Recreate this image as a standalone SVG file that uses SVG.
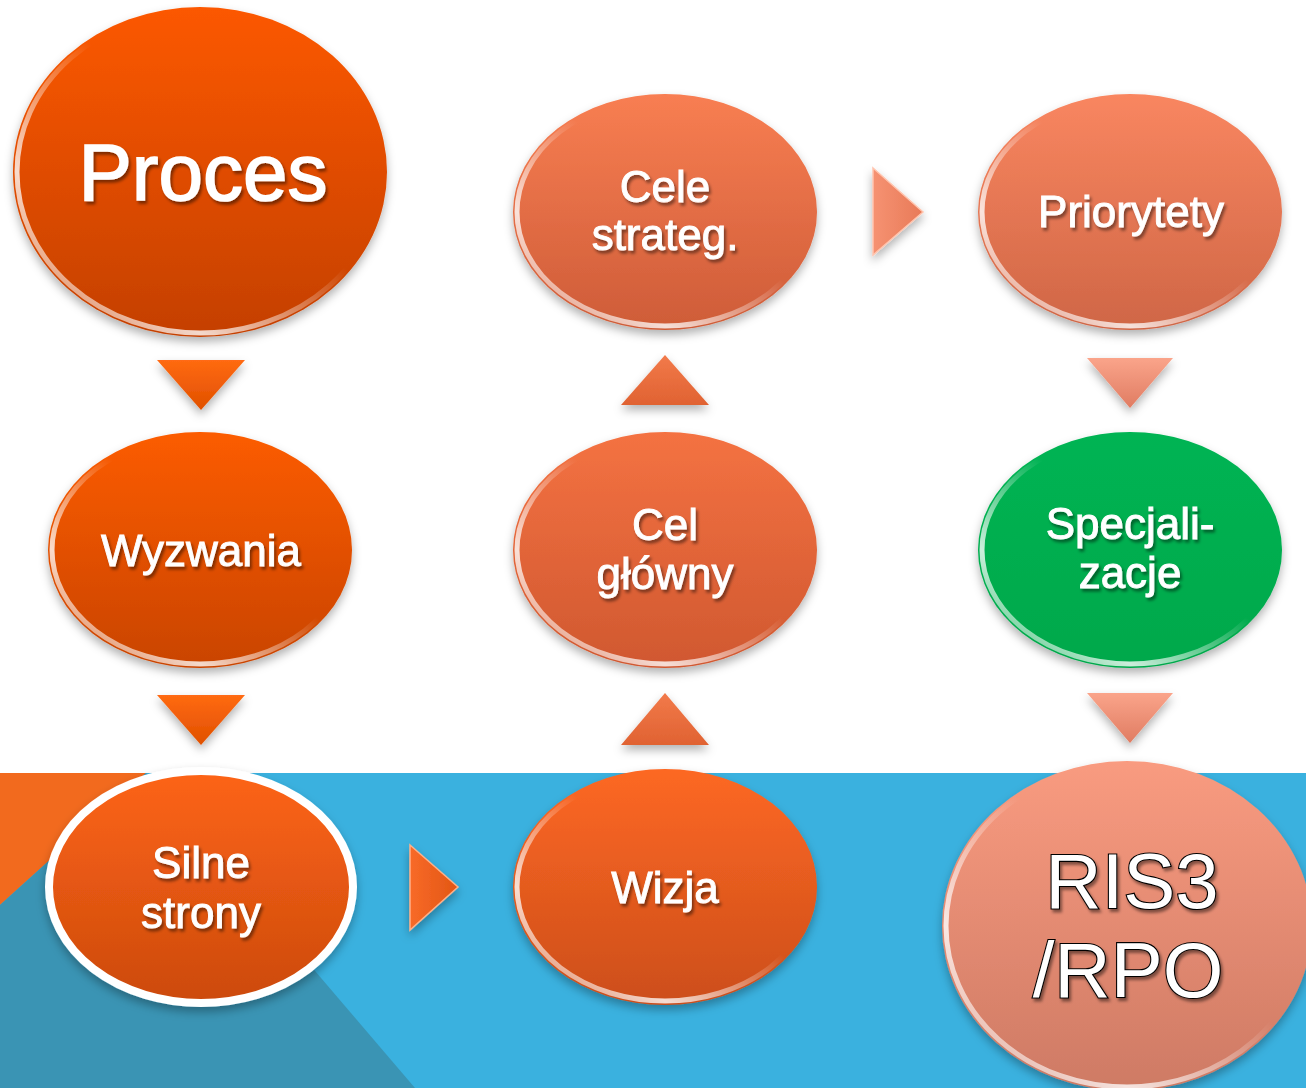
<svg xmlns="http://www.w3.org/2000/svg" width="1306" height="1088" viewBox="0 0 1306 1088">
<style>
.t{font-family:"Liberation Sans",Arial,sans-serif;fill:#fff;stroke:#fff;stroke-width:0.9;text-anchor:middle;filter:url(#ts)}
.m{font-size:44px}
.big{font-size:80px;stroke-width:1.6}
.ris{font-family:"Liberation Sans",Arial,sans-serif;fill:#fff;stroke:#000;stroke-width:2.2;paint-order:stroke;text-anchor:middle;font-size:78px;filter:url(#ts)}
.rim{fill:none;stroke:url(#rimg);stroke-width:5}
</style>
<defs>
<filter id="sh" x="-20%" y="-20%" width="140%" height="150%"><feDropShadow dx="0" dy="5" stdDeviation="5" flood-color="#000" flood-opacity="0.3"/></filter>
<filter id="ts" x="-10%" y="-20%" width="130%" height="150%"><feDropShadow dx="2" dy="3" stdDeviation="1.5" flood-color="#000" flood-opacity="0.45"/></filter>
<linearGradient id="rimg" x1="1" y1="0" x2="0" y2="1"><stop offset="0.45" stop-color="#fff" stop-opacity="0"/><stop offset="0.75" stop-color="#fff" stop-opacity="0.8"/><stop offset="1" stop-color="#fff" stop-opacity="0.2"/></linearGradient>
<linearGradient id="g1" x1="0" y1="0" x2="0" y2="1"><stop offset="0" stop-color="#FC5800"/><stop offset="1" stop-color="#C44000"/></linearGradient>
<linearGradient id="g2" x1="0" y1="0" x2="0" y2="1"><stop offset="0" stop-color="#FC5C02"/><stop offset="1" stop-color="#C94402"/></linearGradient>
<linearGradient id="g3" x1="0" y1="0" x2="0" y2="1"><stop offset="0" stop-color="#FD6418"/><stop offset="1" stop-color="#CC4A0C"/></linearGradient>
<linearGradient id="g4" x1="0" y1="0" x2="0" y2="1"><stop offset="0" stop-color="#FD6824"/><stop offset="1" stop-color="#CC4E1A"/></linearGradient>
<linearGradient id="g5" x1="0" y1="0" x2="0" y2="1"><stop offset="0" stop-color="#F47242"/><stop offset="1" stop-color="#D05830"/></linearGradient>
<linearGradient id="g6" x1="0" y1="0" x2="0" y2="1"><stop offset="0" stop-color="#F87E52"/><stop offset="1" stop-color="#CE5C38"/></linearGradient>
<linearGradient id="g7" x1="0" y1="0" x2="0" y2="1"><stop offset="0" stop-color="#F98660"/><stop offset="1" stop-color="#CF6646"/></linearGradient>
<linearGradient id="g8" x1="0" y1="0" x2="0" y2="1"><stop offset="0" stop-color="#00B453"/><stop offset="1" stop-color="#00A84B"/></linearGradient>
<linearGradient id="g9" x1="0" y1="0" x2="0" y2="1"><stop offset="0" stop-color="#F99B80"/><stop offset="1" stop-color="#CE7A64"/></linearGradient>
<linearGradient id="a1" x1="0" y1="0" x2="0" y2="1"><stop offset="0" stop-color="#FF6A12"/><stop offset="1" stop-color="#E05000"/></linearGradient>
<linearGradient id="a2" x1="0" y1="0" x2="0" y2="1"><stop offset="0" stop-color="#F27A4A"/><stop offset="1" stop-color="#E06232"/></linearGradient>
<linearGradient id="a3" x1="0" y1="0" x2="0" y2="1"><stop offset="0" stop-color="#FAA48A"/><stop offset="1" stop-color="#E07C62"/></linearGradient>
<linearGradient id="a4" x1="0" y1="0" x2="1" y2="0"><stop offset="0" stop-color="#F86A28"/><stop offset="1" stop-color="#E25614"/></linearGradient>
<linearGradient id="a5" x1="0" y1="0" x2="1" y2="0"><stop offset="0" stop-color="#F69272"/><stop offset="1" stop-color="#E87A58"/></linearGradient>
</defs>

<g id="background">
<rect x="0" y="0" width="1306" height="1088" fill="#fff"/>
<rect x="0" y="773" width="1306" height="315" fill="#3AB1DF"/>
<polygon points="0,773 146,773 0,905" fill="#F26A1E"/>
<polygon points="146,773 0,905 0,1088 415,1088" fill="#3A94B4"/>
</g>

<g id="connectors">
<polygon points="157,360 245,360 201,410" fill="url(#a1)" filter="url(#sh)"/>
<polygon points="157,695 245,695 201,745" fill="url(#a1)" filter="url(#sh)"/>
<polygon points="410,845 458,887 410,930" fill="url(#a4)" filter="url(#sh)" stroke="#FFB088" stroke-width="1.5"/>
<polygon points="621,405 709,405 665,355" fill="url(#a2)" filter="url(#sh)"/>
<polygon points="621,745 709,745 665,693" fill="url(#a2)" filter="url(#sh)"/>
<polygon points="873,168 923,212 873,255" fill="url(#a5)" filter="url(#sh)" stroke="#FFC4AE" stroke-width="1.5"/>
<polygon points="1087,358 1173,358 1130,408" fill="url(#a3)" filter="url(#sh)"/>
<polygon points="1087,693 1173,693 1130,743" fill="url(#a3)" filter="url(#sh)"/>
</g>

<g id="node-proces">
<ellipse cx="200" cy="172" rx="187" ry="165" fill="url(#g1)" filter="url(#sh)"/>
<ellipse cx="200" cy="172" rx="183" ry="161" class="rim"/>
<text x="203" y="200" class="t big">Proces</text>
</g>

<g id="node-wyzwania">
<ellipse cx="200" cy="550" rx="152" ry="118" fill="url(#g2)" filter="url(#sh)"/>
<ellipse cx="200" cy="550" rx="148" ry="114" class="rim"/>
<text x="201" y="566" class="t m">Wyzwania</text>
</g>

<g id="node-silne">
<ellipse cx="201" cy="887" rx="152" ry="116" fill="url(#g3)" stroke="#fff" stroke-width="8" filter="url(#sh)"/>
<text x="201" y="878" class="t m">Silne</text>
<text x="201" y="928" class="t m">strony</text>
</g>

<g id="node-wizja">
<ellipse cx="665" cy="887" rx="152" ry="118" fill="url(#g4)" filter="url(#sh)"/>
<ellipse cx="665" cy="887" rx="148" ry="114" class="rim"/>
<text x="665" y="903" class="t m">Wizja</text>
</g>

<g id="node-cel-glowny">
<ellipse cx="665" cy="550" rx="152" ry="118" fill="url(#g5)" filter="url(#sh)"/>
<ellipse cx="665" cy="550" rx="148" ry="114" class="rim"/>
<text x="665" y="540" class="t m">Cel</text>
<text x="665" y="589" class="t m">główny</text>
</g>

<g id="node-cele-strateg">
<ellipse cx="665" cy="212" rx="152" ry="118" fill="url(#g6)" filter="url(#sh)"/>
<ellipse cx="665" cy="212" rx="148" ry="114" class="rim"/>
<text x="665" y="202" class="t m">Cele</text>
<text x="665" y="250" class="t m">strateg.</text>
</g>

<g id="node-priorytety">
<ellipse cx="1130" cy="212" rx="152" ry="118" fill="url(#g7)" filter="url(#sh)"/>
<ellipse cx="1130" cy="212" rx="148" ry="114" class="rim"/>
<text x="1131" y="227" class="t m">Priorytety</text>
</g>

<g id="node-specjalizacje">
<ellipse cx="1130" cy="550" rx="152" ry="118" fill="url(#g8)" filter="url(#sh)"/>
<ellipse cx="1130" cy="550" rx="148" ry="114" class="rim"/>
<text x="1130" y="539" class="t m">Specjali-</text>
<text x="1130" y="588" class="t m">zacje</text>
</g>

<g id="node-ris3">
<ellipse cx="1127" cy="926" rx="185" ry="165" fill="url(#g9)" filter="url(#sh)"/>
<ellipse cx="1127" cy="926" rx="181" ry="161" class="rim"/>
<text x="1132" y="908" class="ris">RIS3</text>
<text x="1128" y="997" class="ris">/RPO</text>
</g>
</svg>
